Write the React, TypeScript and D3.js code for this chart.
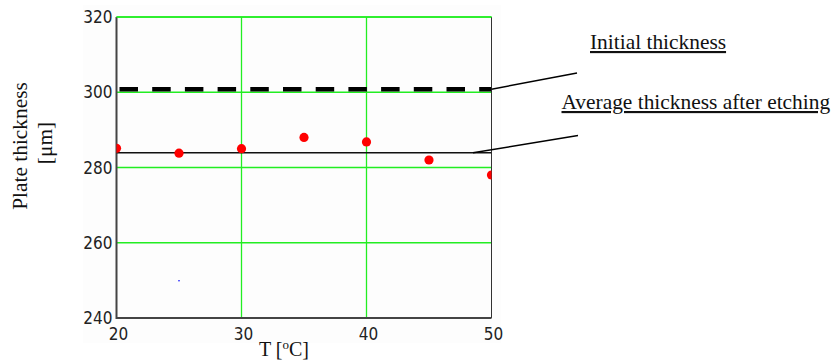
import React, { useEffect, useRef } from 'react';
import * as d3 from 'd3';

// measured points: temperature [°C] vs plate thickness [um]
const temps = [20, 25, 30, 35, 40, 45, 50];
const thickness = [285.1, 283.8, 285, 288, 286.8, 282, 278];
const initialThickness = 300.8;
const averageThickness = 283.9;
const strayPoint = { t: 25, v: 249.9 };
const xTicks = [20, 30, 40, 50];
const yTicks = [240, 260, 280, 300, 320];

const W = 831;
const H = 360;

const App = () => {
  const svgRef = useRef<SVGSVGElement>(null);

  useEffect(() => {
    const svg = d3.select(svgRef.current);
    svg.selectAll('*').remove();

    const x = d3.scaleLinear().domain([20, 50]).range([116.5, 491.5]);
    const y = d3.scaleLinear().domain([240, 320]).range([318, 17]);
    const [x0, x1] = x.range();
    const [yb, yt] = y.range();

    // faint backdrop of the plot region
    svg.append('rect')
      .attr('x', 83).attr('y', 5).attr('width', 418).attr('height', 338)
      .attr('fill', '#fdfdfd');

    const defs = svg.append('defs');
    defs.append('clipPath').attr('id', 'plotclip')
      .append('rect').attr('x', x0).attr('y', yt).attr('width', x1 - x0).attr('height', yb - yt);

    const grid = svg.append('g').attr('stroke', '#22ee22').attr('stroke-width', 1.3);
    yTicks.filter(v => v > 240).forEach(v => {
      grid.append('line').attr('x1', x0).attr('x2', x1).attr('y1', y(v)).attr('y2', y(v));
    });
    xTicks.filter(v => v > 20 && v < 50).forEach(v => {
      grid.append('line').attr('x1', x(v)).attr('x2', x(v)).attr('y1', yt).attr('y2', yb);
    });

    // frame
    svg.append('line').attr('x1', x1).attr('x2', x1).attr('y1', yt).attr('y2', yb)
      .attr('stroke', '#333').attr('stroke-width', 1);
    svg.append('path')
      .attr('d', `M${x0},${yt}V${yb}H${x1}`)
      .attr('fill', 'none').attr('stroke', '#444').attr('stroke-width', 2);
    svg.append('line').attr('x1', x0).attr('x2', x1).attr('y1', yt).attr('y2', yt)
      .attr('stroke', '#22ee22').attr('stroke-width', 1.3);

    const plot = svg.append('g').attr('clip-path', 'url(#plotclip)');

    // initial thickness (dashed)
    plot.append('line')
      .attr('x1', x0 + 3).attr('x2', x1).attr('y1', y(initialThickness)).attr('y2', y(initialThickness))
      .attr('stroke', '#000').attr('stroke-width', 4.3).attr('stroke-dasharray', '18.5 14.2');

    // average thickness
    plot.append('line')
      .attr('x1', x0).attr('x2', x1).attr('y1', y(averageThickness)).attr('y2', y(averageThickness))
      .attr('stroke', '#111').attr('stroke-width', 1.5);

    plot.selectAll('circle.pt')
      .data(temps.map((t, i) => ({ t, v: thickness[i] })))
      .enter().append('circle')
      .attr('class', 'pt')
      .attr('cx', d => x(d.t)).attr('cy', d => y(d.v))
      .attr('r', 4.6).attr('fill', '#ff0000');

    plot.append('circle')
      .attr('cx', x(strayPoint.t)).attr('cy', y(strayPoint.v))
      .attr('r', 0.8).attr('fill', '#0000ff');

    // tick labels
    const tickFont = '"Liberation Sans Narrow", "DejaVu Sans Condensed", Arial, sans-serif';
    svg.append('g').selectAll('text').data(yTicks).enter().append('text')
      .attr('x', 112.5).attr('y', d => y(d)).attr('dy', '0.36em')
      .attr('text-anchor', 'end').attr('font-family', tickFont).attr('font-size', 17)
      .attr('fill', '#222')
      .text(d => d);
    svg.append('g').selectAll('text').data(xTicks).enter().append('text')
      .attr('x', d => x(d) + 2).attr('y', 340)
      .attr('text-anchor', 'middle').attr('font-family', tickFont).attr('font-size', 17)
      .attr('fill', '#222')
      .text(d => d);

    const serif = '"Liberation Serif", "Times New Roman", serif';

    // axis titles
    const xt = svg.append('text').attr('x', 284).attr('y', 355.5)
      .attr('text-anchor', 'middle').attr('font-family', serif).attr('font-size', 20).attr('fill', '#111');
    xt.append('tspan').text('T [');
    xt.append('tspan').attr('font-size', 13).attr('dy', -7).text('o');
    xt.append('tspan').attr('dy', 7).text('C]');

    svg.append('text')
      .attr('transform', 'translate(27,146) rotate(-90)')
      .attr('text-anchor', 'middle').attr('font-family', serif).attr('font-size', 21.4).attr('fill', '#111')
      .text('Plate thickness');
    svg.append('text')
      .attr('transform', 'translate(52,143) rotate(-90)')
      .attr('text-anchor', 'middle').attr('font-family', serif).attr('font-size', 21.4).attr('fill', '#111')
      .text('[μm]');

    // annotations
    const notes = [
      { label: 'Initial thickness', tx: 590, ty: 49, from: [x1, y(initialThickness)], to: [577, 73] },
      { label: 'Average thickness after etching', tx: 561.5, ty: 109, from: [473, y(averageThickness)], to: [578, 135.5] }
    ];
    notes.forEach(n => {
      svg.append('line')
        .attr('x1', n.from[0]).attr('y1', n.from[1]).attr('x2', n.to[0]).attr('y2', n.to[1])
        .attr('stroke', '#000').attr('stroke-width', 1.5);
      svg.append('text')
        .attr('x', n.tx).attr('y', n.ty)
        .attr('font-family', serif).attr('font-size', 21.4).attr('fill', '#111')
        .attr('text-decoration', 'underline')
        .text(n.label);
    });
  }, []);

  return (
    <svg ref={svgRef} width={W} height={H}
      style={{ position: 'absolute', left: 0, top: 0, background: '#fff' }} />
  );
};

export default App;
